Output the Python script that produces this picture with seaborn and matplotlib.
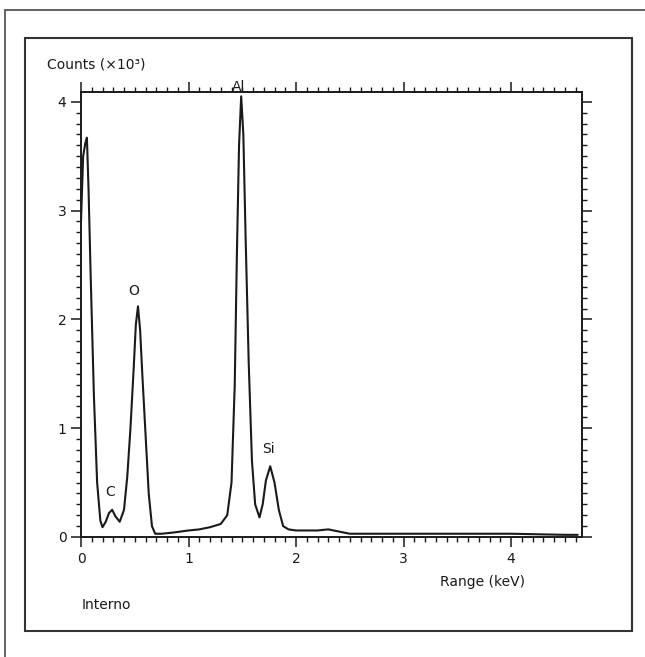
import numpy as np
import pandas as pd
import matplotlib
matplotlib.use("Agg")
import matplotlib.pyplot as plt
from matplotlib.patches import Rectangle
from matplotlib.ticker import MultipleLocator
import seaborn as sns

# EDS spectrum, energy in keV and counts in units of 10^3
energy = [0.00, 0.02, 0.04, 0.055, 0.07, 0.09, 0.12, 0.15, 0.18, 0.20,
          0.23, 0.26, 0.29, 0.32, 0.36, 0.40, 0.43, 0.46, 0.49, 0.51,
          0.53, 0.55, 0.57, 0.60, 0.63, 0.66, 0.69, 0.75, 0.85, 1.00,
          1.10, 1.20, 1.30, 1.36, 1.40, 1.43, 1.45, 1.47, 1.49, 1.51,
          1.53, 1.56, 1.59, 1.62, 1.66, 1.69, 1.72, 1.76, 1.80, 1.84,
          1.88, 1.93, 2.00, 2.20, 2.30, 2.40, 2.50, 3.00, 3.50, 4.00,
          4.50, 4.62]
counts = [2.90, 3.50, 3.62, 3.67, 3.20, 2.40, 1.30, 0.50, 0.15, 0.09,
          0.14, 0.22, 0.25, 0.19, 0.14, 0.25, 0.55, 1.00, 1.55, 1.95,
          2.12, 1.90, 1.50, 0.95, 0.40, 0.10, 0.03, 0.03, 0.04, 0.06,
          0.07, 0.09, 0.12, 0.20, 0.50, 1.40, 2.60, 3.60, 4.05, 3.70,
          2.80, 1.60, 0.70, 0.30, 0.18, 0.30, 0.52, 0.65, 0.50, 0.25,
          0.10, 0.07, 0.06, 0.06, 0.07, 0.05, 0.03, 0.03, 0.03, 0.03,
          0.02, 0.02]

# peak labels
peak_names = ["C", "O", "Al", "Si"]
peak_x = [0.27, 0.49, 1.47, 1.74]
peak_y = [0.35, 2.20, 4.07, 0.74]

sns.set_theme(style="ticks")
plt.rcParams['font.family'] = ['DejaVu Sans']

df = pd.DataFrame({"energy": energy, "counts": counts})

fig = plt.figure(figsize=(6.45, 6.57), dpi=100)
ax = fig.add_axes([81 / 645, 1 - 537 / 657, 501 / 645, 445 / 657])

sns.lineplot(data=df, x="energy", y="counts", ax=ax, color="#1a1a1a",
             linewidth=1.5, sort=False)

ax.set_xlim(0, 4.66)
ax.set_ylim(0, 4.09)
ax.set_xlabel("")
ax.set_ylabel("")

ax.xaxis.set_major_locator(MultipleLocator(1))
ax.xaxis.set_minor_locator(MultipleLocator(0.1))
ax.yaxis.set_major_locator(MultipleLocator(1))
ax.yaxis.set_minor_locator(MultipleLocator(0.1))
ax.tick_params(which="both", direction="out", top=True, right=True,
               color="#1a1a1a", labelsize=10, labelcolor="#1a1a1a")
ax.tick_params(which="major", length=7, width=1.1)
ax.tick_params(which="minor", length=3.5, width=1.0)
ax.tick_params(axis="x", which="major", pad=4)
ax.tick_params(top=True, labeltop=False, right=True, labelright=False)
for s in ax.spines.values():
    s.set_linewidth(1.4)
    s.set_color("#1a1a1a")
    s.set_visible(True)

for name, px, py in zip(peak_names, peak_x, peak_y):
    ax.text(px, py, name, ha="center", va="bottom", fontsize=10,
            color="#1a1a1a", clip_on=False)

fig.text(47 / 645, 1 - 65 / 657, "Counts (×10³)", ha="left", va="center",
         fontsize=10, color="#1a1a1a")
fig.text(440 / 645, 1 - 582 / 657, "Range (keV)", ha="left", va="center",
         fontsize=10, color="#1a1a1a")
fig.text(82 / 645, 1 - 605 / 657, "Interno", ha="left", va="center",
         fontsize=10, color="#1a1a1a")

# outer and inner frames
fig.patches.append(Rectangle((5 / 645, -0.05), 1.0, 1 - 10 / 657 + 0.05,
                             transform=fig.transFigure, fill=False,
                             edgecolor="#555555", linewidth=1.3))
fig.patches.append(Rectangle((25 / 645, 1 - 631 / 657), 607 / 645, 593 / 657,
                             transform=fig.transFigure, fill=False,
                             edgecolor="#333333", linewidth=1.5))

fig.savefig("out.png", dpi=100)
